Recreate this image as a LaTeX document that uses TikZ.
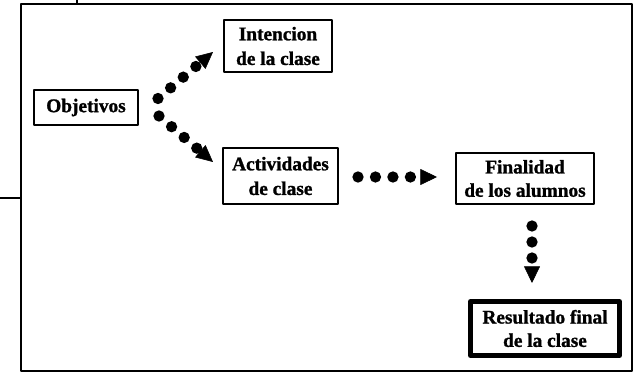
\documentclass[tikz,border=0pt]{standalone}
\usepackage{fontspec}
\setmainfont{Liberation Serif}[BoldFeatures={FakeBold=1.2}]
\usetikzlibrary{arrows.meta,calc}

\begin{document}
\begin{tikzpicture}[x=0.75pt,y=-0.75pt,line join=round,
  box/.style={draw,line width=1.5pt,align=center,inner sep=0pt,
    font=\bfseries\fontsize{14.5}{17.5}\selectfont},
  dotarrow/.style={line width=8.5pt,line cap=round,dash pattern=on 0pt off #1,
    -{Triangle[length=12.5pt,width=12pt,line width=0.4pt]}},
  dotarrow/.default=12.4pt]
\useasboundingbox (0,0) rectangle (635,374);
\draw[line width=1.5pt] (21,4) rectangle (631.5,370.5);
\draw[line width=1pt] (0,198) -- (21,198);
\draw[line width=1.2pt] (77,0) -- (77,3);
\node[box,minimum width=78pt,minimum height=26.25pt] (obj) at (86,107.5) {Objetivos};
\node[box,minimum width=81pt,minimum height=39pt,font=\bfseries\fontsize{14.5}{18.5}\selectfont] (int) at (278,46) {Intencion\\de la clase};
\node[box,minimum width=86.25pt,minimum height=42pt,font=\bfseries\fontsize{14.5}{18.5}\selectfont] (act) at (280.5,176) {Actividades\\de clase};
\node[box,minimum width=103.5pt,minimum height=38.25pt] (fin) at (525,178.5) {Finalidad\\de los alumnos};
\node[box,line width=3.75pt,minimum width=111.75pt,minimum height=40.5pt] (res) at (545,328.5) {Resultado final\\de la clase};
\draw[dotarrow] ($(obj.east)+(19,-9)$) -- ($(int.west)+(-10,6)$);
\draw[dotarrow] ($(obj.east)+(20,8.5)$) -- ($(act.west)+(-9,-14)$);
\draw[dotarrow=13.1pt] ($(act.east)+(19,1)$) -- ($(fin.west)+(-18,-1.5)$);
\draw[dotarrow=12pt] ($(fin.south)+(7,21)$) -- ($(res.north)+(-13,-16)$);
\end{tikzpicture}
\end{document}
